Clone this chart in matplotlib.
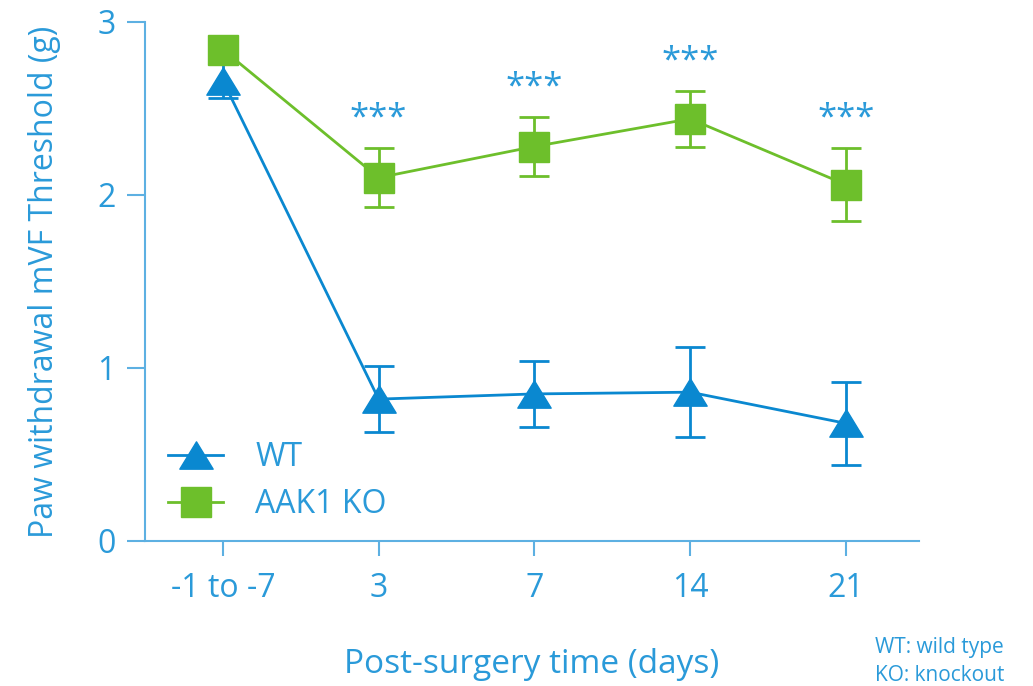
import numpy as np
import matplotlib
matplotlib.use("Agg")
import matplotlib.pyplot as plt
from matplotlib.path import Path
from matplotlib.lines import Line2D

plt.rcParams['font.family'] = ['Open Sans', 'DejaVu Sans']

# Données : seuil de retrait de la patte (g), moyenne +/- erreur
jours = ["-1 to -7", "3", "7", "14", "21"]
wt_moy = [2.66, 0.82, 0.85, 0.86, 0.68]
wt_err = [0.10, 0.19, 0.19, 0.26, 0.24]
ko_moy = [2.84, 2.10, 2.28, 2.44, 2.06]
ko_err = [0.00, 0.17, 0.17, 0.16, 0.21]
signif = ["", "***", "***", "***", "***"]

bleu = "#0a88d0"
bleu_txt = "#2a9ad9"
bleu_axe = "#5db0e2"
vert = "#6dbf2b"

# Triangle un peu plus large que haut
triangle = Path([(0, 0.82), (-1, -0.82), (1, -0.82), (0, 0.82)],
                [Path.MOVETO, Path.LINETO, Path.LINETO, Path.CLOSEPOLY])

fig = plt.figure(figsize=(10.33, 6.86), dpi=100)
ax = fig.add_axes([0.1404, 0.2114, 0.7493, 0.7566])

x = np.arange(len(jours))

ax.errorbar(x, wt_moy, yerr=wt_err, color=bleu, lw=2, marker=triangle, ms=24,
            capsize=11, capthick=2, elinewidth=2, clip_on=False, zorder=3)
ax.errorbar(x, ko_moy, yerr=ko_err, color=vert, lw=2, marker='s', ms=22,
            capsize=11, capthick=2, elinewidth=2, clip_on=False, zorder=4)

# Étoiles de significativité au-dessus des barres KO
for xi, m, e, s in zip(x, ko_moy, ko_err, signif):
    if s:
        ax.text(xi, m + e + 0.17, s, color=bleu_txt, fontsize=25,
                ha='center', va='center')

ax.set_xlim(-0.5, 4.47)
ax.set_ylim(0, 3)
ax.set_yticks([0, 1, 2, 3])
ax.set_xticks(x)
ax.set_xticklabels(jours)

for cote in ['top', 'right']:
    ax.spines[cote].set_visible(False)
for cote in ['left', 'bottom']:
    ax.spines[cote].set_color(bleu_axe)
    ax.spines[cote].set_linewidth(1.5)

ax.tick_params(axis='both', colors=bleu_axe, labelcolor=bleu_txt, labelsize=23,
               width=1.5, direction='out')
ax.tick_params(axis='x', length=11, pad=11)
ax.tick_params(axis='y', length=13, pad=8)

ax.set_xlabel("Post-surgery time (days)", color=bleu_txt, fontsize=24, labelpad=31)
ax.set_ylabel("Paw withdrawal mVF Threshold (g)", color=bleu_txt, fontsize=23, labelpad=26)

# Légende sans barres d'erreur
poignees = [Line2D([], [], color=bleu, lw=2, marker=triangle, ms=24),
            Line2D([], [], color=vert, lw=2, marker='s', ms=22)]
leg = ax.legend(poignees, ["WT", "AAK1 KO"], loc='lower left',
                bbox_to_anchor=(0.03, 0.038), frameon=False,
                fontsize=23, handlelength=1.72, labelspacing=0.45,
                handletextpad=1.0, borderaxespad=0, borderpad=0)
for t in leg.get_texts():
    t.set_color(bleu_txt)

fig.text(0.847, 0.056, "WT: wild type", color=bleu_txt, fontsize=15, ha='left', va='center')
fig.text(0.847, 0.016, "KO: knockout", color=bleu_txt, fontsize=15, ha='left', va='center')

plt.savefig("out.png", dpi=100)
plt.close()
